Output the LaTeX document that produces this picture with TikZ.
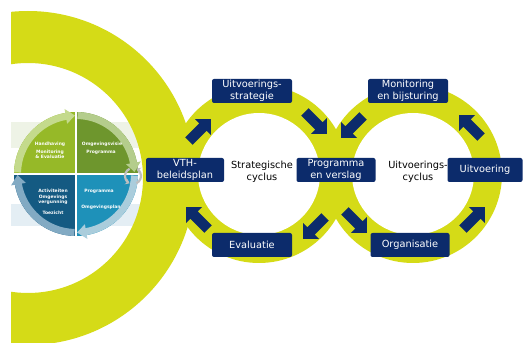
\documentclass[tikz,border=0pt]{standalone}
\usepackage{fontspec}
\newfontfamily\vfont{DejaVu Sans}
\usetikzlibrary{shapes.arrows,arrows.meta}
\definecolor{yg}{RGB}{213,219,23}
\definecolor{navy}{RGB}{12,43,107}
\definecolor{qa}{RGB}{150,185,40}
\definecolor{qab}{RGB}{196,218,140}
\definecolor{qb}{RGB}{110,150,45}
\definecolor{qbb}{RGB}{180,205,140}
\definecolor{qc}{RGB}{30,145,185}
\definecolor{qcb}{RGB}{170,205,220}
\definecolor{qd}{RGB}{20,90,130}
\definecolor{qdb}{RGB}{130,170,195}
\definecolor{bandg}{RGB}{238,243,230}
\definecolor{bandb}{RGB}{228,238,244}
\newcommand\qbandarrow[3]{%
  \fill[#1, shift={(76,169)}] (#2:62pt) arc[start angle=#2, end angle=#3+9, radius=62pt]
    -- (#3+9:66pt) -- (#3:58.5pt) -- (#3+9:51pt) -- (#3+9:55pt)
    arc[start angle=#3+9, end angle=#2, radius=55pt] -- cycle;}
\begin{document}
\begin{tikzpicture}[x=1pt,y=1pt,
  box/.style={fill=navy, rounded corners=2pt, text=white,
    font=\vfont\fontsize{9.8}{12}\selectfont, align=center,
    minimum width=80pt, minimum height=24pt, inner sep=1pt},
  cyc/.style={font=\vfont\fontsize{9.8}{12}\selectfont, align=center, text=black},
  blk/.style={single arrow, fill=navy, minimum height=31pt,
    single arrow head extend=6pt, single arrow tip angle=90,
    inner xsep=0pt, inner ysep=5pt},
  qt/.style={text=white, font=\vfont\bfseries\fontsize{4.5}{5}\selectfont, inner sep=0pt}
]
\useasboundingbox (0,0) rectangle (528,343);
% pale bands
\fill[bandg] (11,195) rectangle (150,221);
\fill[bandb] (11,117) rectangle (150,139);
% big arc
\begin{scope}
  \clip (11,0) rectangle (528,343);
  \fill[yg, even odd rule] (28,165) circle[radius=167pt] (28,165) circle[radius=115pt];
\end{scope}
% rings
\fill[yg] (259,169) circle[radius=89pt];
\fill[yg] (413,169) circle[radius=89pt];
\fill[white] (259,169) circle[radius=61pt];
\fill[white] (413,169) circle[radius=61pt];
% quadrant graphic
\fill[qa] (76,169) -- ++(180:62pt) arc[start angle=180, end angle=90, radius=62pt] -- cycle;
\fill[qb] (76,169) -- ++(90:62pt) arc[start angle=90, end angle=0, radius=62pt] -- cycle;
\fill[qc] (76,169) -- ++(0:62pt) arc[start angle=0, end angle=-90, radius=62pt] -- cycle;
\fill[qd] (76,169) -- ++(-90:62pt) arc[start angle=-90, end angle=-180, radius=62pt] -- cycle;
\draw[white, line width=2pt] (76,105) -- (76,233) (12,169) -- (140,169);
\qbandarrow{qab}{178.5}{91}
\qbandarrow{qbb}{88.5}{2}
\qbandarrow{qcb}{358.5}{271}
\qbandarrow{qdb}{268.5}{181}
\node[qt] (h1) at (50,199) {Handhaving};
\node[qt] (h2) at (50,191) {Monitoring};
\node[qt] (h3) at (50,186) {\& Evaluatie};
\node[qt] (o1) at (102,199) {Omgevingsvisie};
\node[qt] (o2) at (101,191) {Programma};
\node[qt] (a1) at (53,152) {Activiteiten};
\node[qt] (a2) at (53,146) {Omgevings};
\node[qt] (a3) at (53,141) {vergunning};
\node[qt] (a4) at (53,130) {Toezicht};
\node[qt] (p1) at (99,152) {Programma};
\node[qt] (p2) at (101,136) {Omgevingsplan};
% grey cycle icon
\coordinate (ic) at (133,167);
\draw[gray!50, line width=2.2pt, -{Stealth[length=4pt,width=6pt]}]
  (ic) ++(115:8pt) arc[start angle=115, end angle=245, radius=8pt];
\draw[gray!50, line width=2.2pt, -{Stealth[length=4pt,width=6pt]}]
  (ic) ++(295:8pt) arc[start angle=295, end angle=425, radius=8pt];
% boxes
\node[box] (us) at (252,252) {Uitvoerings-\\strategie};
\node[box] (mb) at (408,252) {Monitoring\\en bijsturing};
\node[box, minimum width=78pt] (vth) at (185,173) {VTH-\\beleidsplan};
\node[box, minimum width=79pt] (pv) at (336,173) {Programma\\en verslag};
\node[box, minimum width=75pt] (uv) at (485,173) {Uitvoering};
\node[box] (ev) at (252,98) {Evaluatie};
\node[box, minimum width=79pt] (org) at (410,98) {Organisatie};
\node[cyc] (sc) at (262,171) {Strategische\\cyclus};
\node[cyc] (uc) at (418,171) {Uitvoerings-\\cyclus};
% block arrows
\node[blk, rotate=45] (ar1) at (198,211) {};
\node[blk, rotate=-45] (ar2) at (314,222) {};
\node[blk, rotate=-135] (ar3) at (316,117) {};
\node[blk, rotate=135] (ar4) at (199,123) {};
\node[blk, rotate=-45] (br1) at (354,123) {};
\node[blk, rotate=45] (br2) at (472,123) {};
\node[blk, rotate=135] (br3) at (472,215) {};
\node[blk, rotate=-135] (br4) at (354,218) {};
\end{tikzpicture}
\end{document}
